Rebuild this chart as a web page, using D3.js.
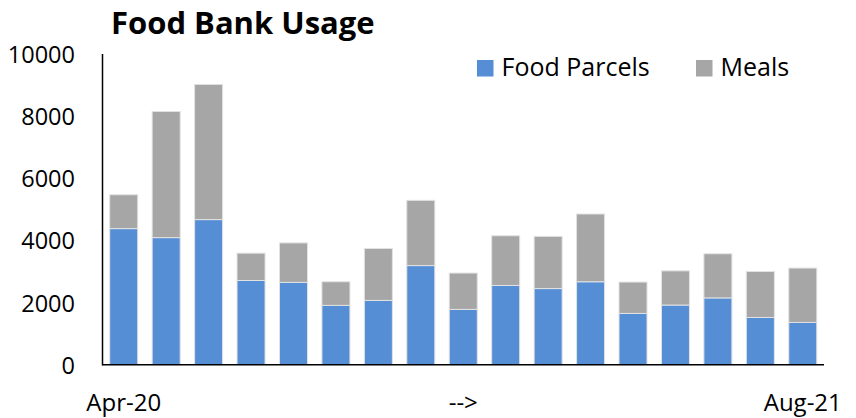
<!DOCTYPE html>
<html>
<head>
<meta charset="utf-8">
<script src="https://cdn.jsdelivr.net/npm/d3@7"></script>
<style>
  html, body { margin: 0; padding: 0; background: #fff; }
  svg { display: block; font-family: "Open Sans", sans-serif; }
</style>
</head>
<body>
<svg id="chart" width="856" height="418"></svg>
<script>
const months = ["Apr-20","May-20","Jun-20","Jul-20","Aug-20","Sep-20","Oct-20","Nov-20","Dec-20",
                "Jan-21","Feb-21","Mar-21","Apr-21","May-21","Jun-21","Jul-21","Aug-21"];
const foodParcels = [4380, 4090, 4670, 2710, 2650, 1910, 2070, 3190, 1780, 2550, 2450, 2670, 1650, 1920, 2150, 1520, 1360];
const meals       = [1090, 4060, 4350,  880, 1270,  760, 1670, 2100, 1170, 1600, 1680, 2180, 1010, 1100, 1420, 1480, 1750];
const xLabels = {"Apr-20": "Apr-20", "Dec-20": "-->", "Aug-21": "Aug-21"};
const yTicks = [0, 2000, 4000, 6000, 8000, 10000];
const seriesNames = ["Food Parcels", "Meals"];
const colors = ["#558ED5", "#A6A6A6"];

const svg = d3.select("#chart");
const x = d3.scaleBand().domain(months).range([102.5, 824]).paddingInner(0.34).paddingOuter(0.17);
const y = d3.scaleLinear().domain([0, 10000]).range([364.7, 54]);

const rows = months.map((m, i) => ({month: m, "Food Parcels": foodParcels[i], "Meals": meals[i]}));
const stack = d3.stack().keys(seriesNames)(rows);

svg.append("g").selectAll("g").data(stack).join("g")
  .attr("fill", (d, i) => colors[i])
  .selectAll("rect").data(d => d).join("rect")
  .attr("x", d => x(d.data.month))
  .attr("width", x.bandwidth())
  .attr("y", d => y(d[1]))
  .attr("height", d => y(d[0]) - y(d[1]))
  .attr("stroke", "#e2e2e2")
  .attr("stroke-width", 1);

// Axes lines
svg.append("line").attr("x1", 102.5).attr("x2", 102.5).attr("y1", y(10000)).attr("y2", y(0) + 0.75)
  .attr("stroke", "#000").attr("stroke-width", 1.5);
svg.append("line").attr("x1", 102.5).attr("x2", 824).attr("y1", y(0)).attr("y2", y(0))
  .attr("stroke", "#000").attr("stroke-width", 1.5);

// Y tick labels
svg.append("g").selectAll("text").data(yTicks).join("text")
  .attr("x", 75).attr("y", d => y(d))
  .attr("text-anchor", "end").attr("dominant-baseline", "central")
  .attr("font-size", 23.5).attr("fill", "#000")
  .text(d => d);

// X labels
svg.append("g").selectAll("text").data(months.filter(m => xLabels[m])).join("text")
  .attr("x", d => x(d) + x.bandwidth() / 2).attr("y", 410.5)
  .attr("text-anchor", "middle").attr("font-size", 24).attr("fill", "#000")
  .text(d => xLabels[d]);

// Title
svg.append("text").attr("x", 111).attr("y", 34.3)
  .attr("font-size", 31).attr("font-weight", "bold").attr("fill", "#000")
  .text("Food Bank Usage");

// Legend
const legendX = [477, 696];
const lg = svg.append("g").selectAll("g").data(seriesNames).join("g")
  .attr("transform", (d, i) => `translate(${legendX[i]},60)`);
lg.append("rect").attr("width", 16.5).attr("height", 16.5).attr("fill", (d, i) => colors[i]);
lg.append("text").attr("x", 24.5).attr("y", 16.2).attr("font-size", 25).attr("fill", "#000").text(d => d);
</script>
</body>
</html>
